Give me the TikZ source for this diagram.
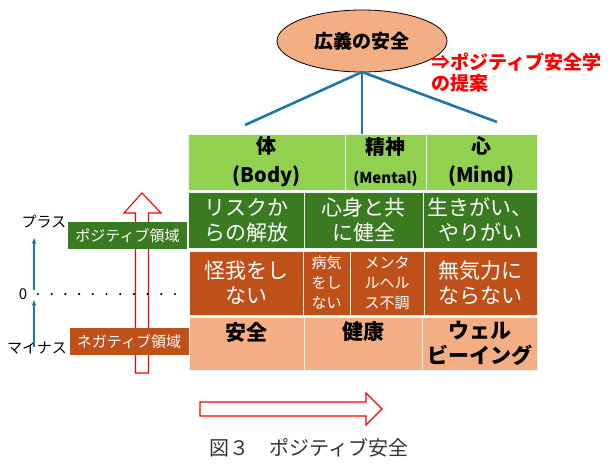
\documentclass[tikz,border=0pt]{standalone}
\usepackage{fontspec}
\setmainfont{Noto Sans CJK JP}
\usetikzlibrary{shapes.geometric,arrows.meta}
\definecolor{lgreen}{HTML}{92D050}
\definecolor{dgreen}{HTML}{3A7B22}
\definecolor{dorange}{HTML}{C0501A}
\definecolor{salmon}{HTML}{F4AE84}
\definecolor{lineblue}{HTML}{1F77A6}
\definecolor{capgray}{HTML}{333333}
\newcommand{\setfs}[2]{\fontsize{#1}{#2}\selectfont}
\tikzset{
  cellbox/.style={draw=white!90!gray, line width=1pt, inner sep=0pt, align=center},
  tagbox/.style={inner sep=0pt, text=white, font=\setfs{15}{18}, minimum width=119pt, minimum height=27pt},
  hollow/.style={draw=red, line width=1.1pt, fill=white, line join=miter},
  branch/.style={draw=lineblue, line width=2.6pt},
  upar/.style={draw=lineblue, line width=1.2pt, -{Stealth[length=6pt,width=4.5pt]}},
  sidetxt/.style={inner sep=0pt, font=\setfs{15}{17}},
}
\begin{document}
\begin{tikzpicture}[x=1pt,y=-1pt]
\useasboundingbox (0,0) rectangle (615,463);
% top ellipse
\node[ellipse, draw=black, line width=0.8pt, fill=salmon, minimum width=170pt, minimum height=62pt, inner sep=0pt, font=\bfseries\setfs{19}{22}] (top) at (362,41) {広義の安全};
\node[anchor=north west, inner sep=0pt, align=left, text=red, font=\bfseries\setfs{19}{21}] (prop) at (431,53) {⇒ポジティブ安全学\\の提案};
% header row
\node[cellbox, fill=lgreen, minimum width=157pt, minimum height=56pt, font=\bfseries\setfs{20}{29}] (hBody) at (266.5,162) {体\\(Body)};
\node[cellbox, fill=lgreen, minimum width=81pt, minimum height=56pt, font=\bfseries\setfs{20}{29}] (hMental) at (385.5,162) {精神\\{\setfs{15}{16}(Mental)}};
\node[cellbox, fill=lgreen, minimum width=111pt, minimum height=56pt, font=\bfseries\setfs{20}{29}] (hMind) at (481.5,162) {心\\(Mind)};
% branches
\coordinate (apex) at (362,72);
\coordinate (endL) at (245,125);
\coordinate (endR) at (497,122);
\draw[branch] (apex) -- (endL);
\draw[branch] (apex) -- (hMental.north -| apex);
\draw[branch] (apex) -- (endR);
% dark green row
\node[cellbox, fill=dgreen, text=white, minimum width=116pt, minimum height=56pt, font=\setfs{21}{25}] (g1) at (246,220) {リスクか\\らの解放};
\node[cellbox, fill=dgreen, text=white, minimum width=119pt, minimum height=56pt, font=\setfs{21}{25}] (g2) at (363.5,220) {心身と共\\に健全};
\node[cellbox, fill=dgreen, text=white, minimum width=114pt, minimum height=56pt, font=\setfs{21}{25}] (g3) at (480,220) {生きがい、\\やりがい};
% orange row
\node[cellbox, fill=dorange, text=white, minimum width=114pt, minimum height=64pt, font=\setfs{21}{25}] (o1) at (246,283) {怪我をし\\ない};
\node[cellbox, fill=dorange, text=white, minimum width=47pt, minimum height=64pt, font=\setfs{15}{20}] (o2) at (326.5,283) {病気\\をし\\ない};
\node[cellbox, fill=dorange, text=white, minimum width=74pt, minimum height=64pt, font=\setfs{15}{20}] (o3) at (387,283) {メンタ\\ルヘル\\ス不調};
\node[cellbox, fill=dorange, text=white, minimum width=113pt, minimum height=64pt, font=\setfs{21}{25}] (o4) at (480.5,283) {無気力に\\ならない};
% salmon row
\node[cellbox, fill=salmon, minimum width=115pt, minimum height=53pt, font=\bfseries\setfs{21}{25}] (s1) at (246.5,343.5) {安全\\~};
\node[cellbox, fill=salmon, minimum width=118pt, minimum height=53pt, font=\bfseries\setfs{21}{25}] (s2) at (363,343.5) {健康\\~};
\node[cellbox, fill=salmon, minimum width=115pt, minimum height=53pt, font=\bfseries\setfs{21}{25}] (s3) at (479.5,343.5) {ウェル\\ビーイング};
% red hollow up arrow
\draw[hollow] (135.5,373) -- (135.5,213) -- (124,213) -- (142,193) -- (161,213) -- (148.5,213) -- (148.5,373) -- cycle;
% side tags
\node[tagbox, fill=dgreen] (posTag) at (127.5,235.5) {ポジティブ領域};
\node[tagbox, fill=dorange] (negTag) at (129,341.5) {ネガティブ領域};
% left scale
\node[sidetxt] (plus) at (44,222) {プラス};
\node[sidetxt] (minus) at (37,348) {マイナス};
\node[sidetxt] (zero) at (23,294) {0};
\coordinate (a1s) at (34,290);
\coordinate (a1e) at (34,238);
\coordinate (a2s) at (34,347);
\coordinate (a2e) at (34,300);
\draw[upar] (a1s) -- (a1e);
\draw[upar] (a2s) -- (a2e);
\foreach \i in {0,...,10} { \fill (38+13.7*\i,294) circle (1.2pt); }
% horizontal hollow arrow
\draw[hollow] (200,402) -- (366,402) -- (366,393) -- (382,409) -- (366,425) -- (366,416) -- (200,416) -- cycle;
% caption
\node[inner sep=0pt, text=capgray, font=\setfs{20}{24}] (cap) at (309,448) {図３　ポジティブ安全};
\end{tikzpicture}
\end{document}
